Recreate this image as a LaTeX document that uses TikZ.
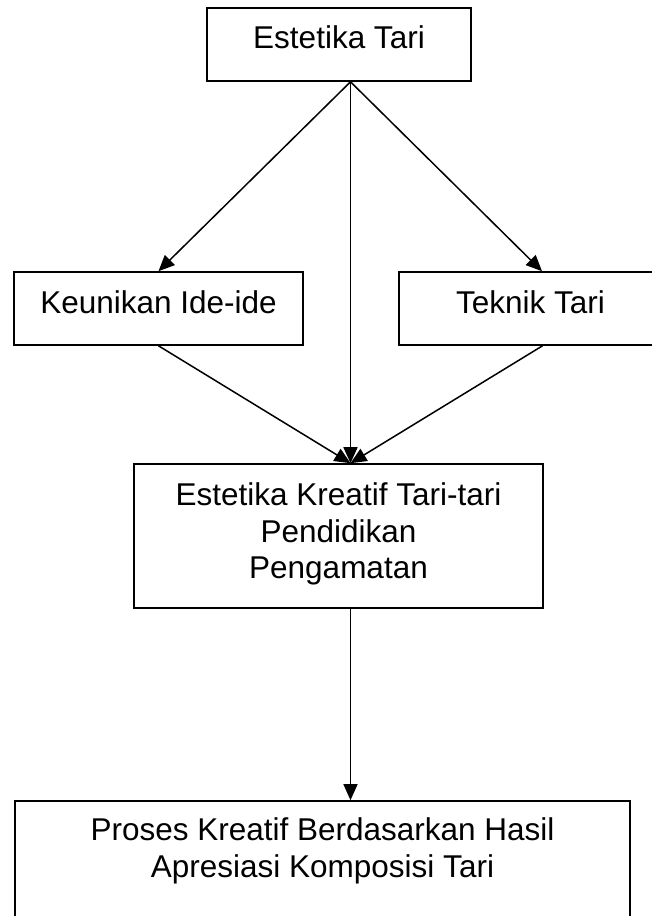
\documentclass[tikz,border=0pt]{standalone}
\usepackage{fontspec}
\setmainfont{Liberation Sans}
\usetikzlibrary{arrows.meta,calc}
\begin{document}
\begin{tikzpicture}[x=1pt,y=-1pt,
  box/.style={draw, line width=1.6pt, inner sep=0pt},
  txt/.style={anchor=base, inner sep=0pt, font=\fontsize{31.5}{36}\selectfont},
  arr/.style={line width=1.5pt, -{Triangle[length=16pt,width=14pt]}}]
\useasboundingbox (0,0) rectangle (652,916);
\clip (0,0) rectangle (652,916);
% boxes
\node[box, minimum width=264pt, minimum height=73pt] (estetika) at (339,44.5) {};
\node[box, minimum width=289pt, minimum height=73pt] (keunikan) at (158.5,308.5) {};
\node[box, minimum width=263pt, minimum height=73pt] (teknik) at (530.5,308.5) {};
\node[box, minimum width=409pt, minimum height=144pt] (kreatif) at (338.5,536) {};
\node[box, minimum width=615pt, minimum height=139pt] (proses) at (322.5,870.5) {};
% texts
\node[txt] (testetika) at (339,48) {Estetika Tari};
\node[txt] (tkeunikan) at (158.5,313) {Keunikan Ide-ide};
\node[txt] (tteknik) at (530.5,313) {Teknik Tari};
\node[txt] (tkreatifa) at (338.5,505) {Estetika Kreatif Tari-tari};
\node[txt] (tkreatifb) at (338.5,542) {Pendidikan};
\node[txt] (tkreatifc) at (338.5,578) {Pengamatan};
\node[txt] (tprosesa) at (322.5,840) {Proses Kreatif Berdasarkan Hasil};
\node[txt] (tprosesb) at (322.5,877) {Apresiasi Komposisi Tari};
% connector ends
\path (estetika.south) ++(11.5,0) coordinate (s0);
\path (teknik.north) ++(11.5,0) coordinate (tkin);
\path (teknik.south) ++(12,0) coordinate (tkout);
\path (kreatif.north) ++(12,0) coordinate (krin);
\path (kreatif.south) ++(12,0) coordinate (krout);
\path (proses.north) ++(28,0) coordinate (prin);
% connectors
\draw[arr] (s0) -- (keunikan.north);
\draw[arr] (s0) -- (tkin);
\draw[arr] (s0) -- (krin);
\draw[arr] (keunikan.south) -- (krin);
\draw[arr] (tkout) -- (krin);
\draw[arr] (krout) -- (prin);
\end{tikzpicture}
\end{document}
